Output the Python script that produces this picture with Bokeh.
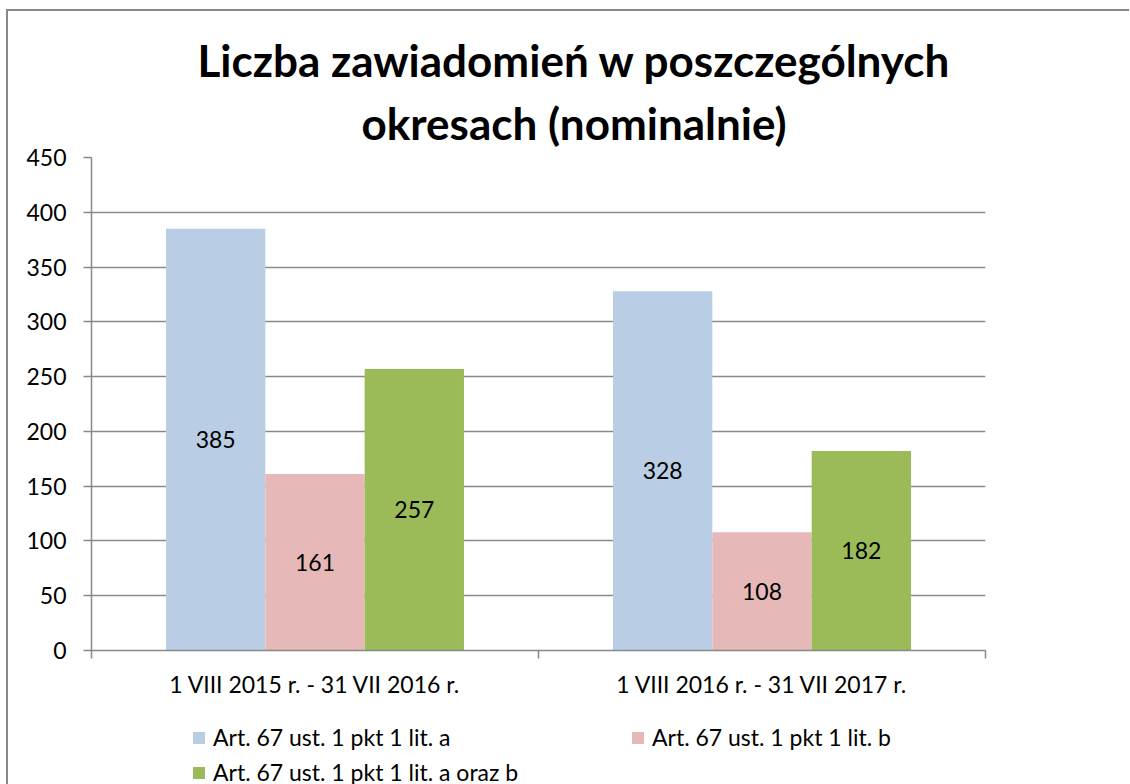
from bokeh.plotting import figure
from bokeh.layouts import column, row
from bokeh.models import (ColumnDataSource, Range1d, FixedTicker, Legend, LegendItem, Title, Spacer)
from bokeh.transform import dodge
from bokeh.core.properties import value
from bokeh.embed import file_html
from bokeh.resources import INLINE

# ---- data ----
title_lines = ["Liczba zawiadomień w poszczególnych", "okresach (nominalnie)"]
categories = ["1 VIII 2015 r. - 31 VII 2016 r.", "1 VIII 2016 r. - 31 VII 2017 r."]
series_names = ["Art. 67 ust. 1 pkt 1 lit. a", "Art. 67 ust. 1 pkt 1 lit. b",
                "Art. 67 ust. 1 pkt 1 lit. a oraz b"]
lit_a = [385, 328]
lit_b = [161, 108]
lit_ab = [257, 182]
y_ticks = [0, 50, 100, 150, 200, 250, 300, 350, 400, 450]
colors = ["#B9CDE5", "#E6B9B8", "#9BBB59"]

FONT = "Lato"
GRAY = "#898989"
W = 0.2222

src = ColumnDataSource(dict(
    xc=[i + 0.5 for i in range(len(categories))],
    a=lit_a, b=lit_b, ab=lit_ab,
    a_mid=[v / 2 for v in lit_a], b_mid=[v / 2 for v in lit_b], ab_mid=[v / 2 for v in lit_ab],
    a_t=[str(v) for v in lit_a], b_t=[str(v) for v in lit_b], ab_t=[str(v) for v in lit_ab],
))

p1 = figure(width=1121, height=701, x_range=Range1d(0, len(categories)), y_range=Range1d(0, 450),
            output_backend="svg", toolbar_location=None, title=None,
            min_border_left=83, min_border_top=146, min_border_right=144, min_border_bottom=62)
p1.outline_line_color = None
p1.background_fill_color = "white"
p1.border_fill_color = "white"

for key, off, col in [("a", -W, colors[0]), ("b", 0.0, colors[1]), ("ab", W, colors[2])]:
    p1.vbar(x=dodge("xc", off), top=key, width=W, bottom=0, source=src,
            fill_color=col, line_color=None)
    p1.text(x=dodge("xc", off), y=key + "_mid", text=key + "_t", source=src,
            text_align="center", text_baseline="middle", text_font=value(FONT),
            text_font_size=value("23px"), text_color="#000000")

# axes
p1.xgrid.visible = False
p1.ygrid.grid_line_color = GRAY
p1.ygrid.grid_line_width = 1.5

p1.yaxis.ticker = FixedTicker(ticks=y_ticks)
p1.yaxis.axis_line_color = GRAY
p1.yaxis.axis_line_width = 1.5
p1.yaxis.major_tick_line_color = GRAY
p1.yaxis.major_tick_line_width = 1.5
p1.yaxis.major_tick_out = 8
p1.yaxis.major_tick_in = 0
p1.yaxis.minor_tick_line_color = None
p1.yaxis.major_label_text_font = FONT
p1.yaxis.major_label_text_font_size = "23px"
p1.yaxis.major_label_text_color = "#000000"
p1.yaxis.major_label_standoff = 17

p1.xaxis.ticker = FixedTicker(ticks=[i + 0.5 for i in range(len(categories))],
                              minor_ticks=list(range(len(categories) + 1)))
p1.xaxis.major_label_overrides = {i + 0.5: c for i, c in enumerate(categories)}
p1.xaxis.axis_line_color = GRAY
p1.xaxis.axis_line_width = 1.5
p1.xaxis.major_tick_line_color = None
p1.xaxis.major_tick_out = 0
p1.xaxis.major_tick_in = 0
p1.xaxis.minor_tick_line_color = GRAY
p1.xaxis.minor_tick_line_width = 1.5
p1.xaxis.minor_tick_out = 8
p1.xaxis.minor_tick_in = 0
p1.xaxis.major_label_text_font = FONT
p1.xaxis.major_label_text_font_size = "23px"
p1.xaxis.major_label_text_color = "#000000"
p1.xaxis.major_label_standoff = 11

# title: two lines (line 2 added first -> nearest the plot)
for txt, off, so in [(title_lines[1], 270, 17), (title_lines[0], 106, 1)]:
    p1.add_layout(Title(text=txt, align="left", offset=off, text_font=FONT,
                        text_font_style="bold", text_font_size="44px",
                        text_color="#000000", standoff=so), "above")

# legend strip (separate canvas so nothing is clipped)
p2 = figure(width=1121, height=72, x_range=Range1d(0, 1), y_range=Range1d(0, 1),
            output_backend="svg", toolbar_location=None, title=None,
            x_axis_location=None, y_axis_location=None, min_border=0)
p2.outline_line_color = None
p2.grid.visible = False
p2.background_fill_color = None
p2.border_fill_color = None
# legend proxies: zero-area bars (nothing visible in the strip itself)
proxies = [p2.vbar(x=[0.5], top=[0], bottom=0, width=0, fill_color=c, line_color=None)
           for c in colors]

legend = Legend(items=[LegendItem(label=n, renderers=[r]) for n, r in zip(series_names, proxies)],
                orientation="horizontal", ncols=2, location=(100, -2))
legend.glyph_width = 15
legend.glyph_height = 15
legend.label_standoff = 7
legend.label_width = 410
legend.label_height = 26
legend.spacing = 7
legend.padding = 0
legend.margin = 0
legend.border_line_color = None
legend.background_fill_alpha = 0
legend.label_text_font = FONT
legend.label_text_font_size = "23px"
legend.label_text_color = "#000000"
p2.add_layout(legend, "center")

BORDER = {"background-color": "#888888"}
chart = column(p1, p2, spacing=0)
framed = column(Spacer(width=1123, height=2, styles=BORDER),
                row(Spacer(width=2, height=773, styles=BORDER), chart, spacing=0),
                spacing=0)
layout = column(Spacer(width=1129, height=9),
                row(Spacer(width=6, height=775), framed, spacing=0),
                spacing=0)

open("out.html", "w").write(file_html(layout, INLINE))
